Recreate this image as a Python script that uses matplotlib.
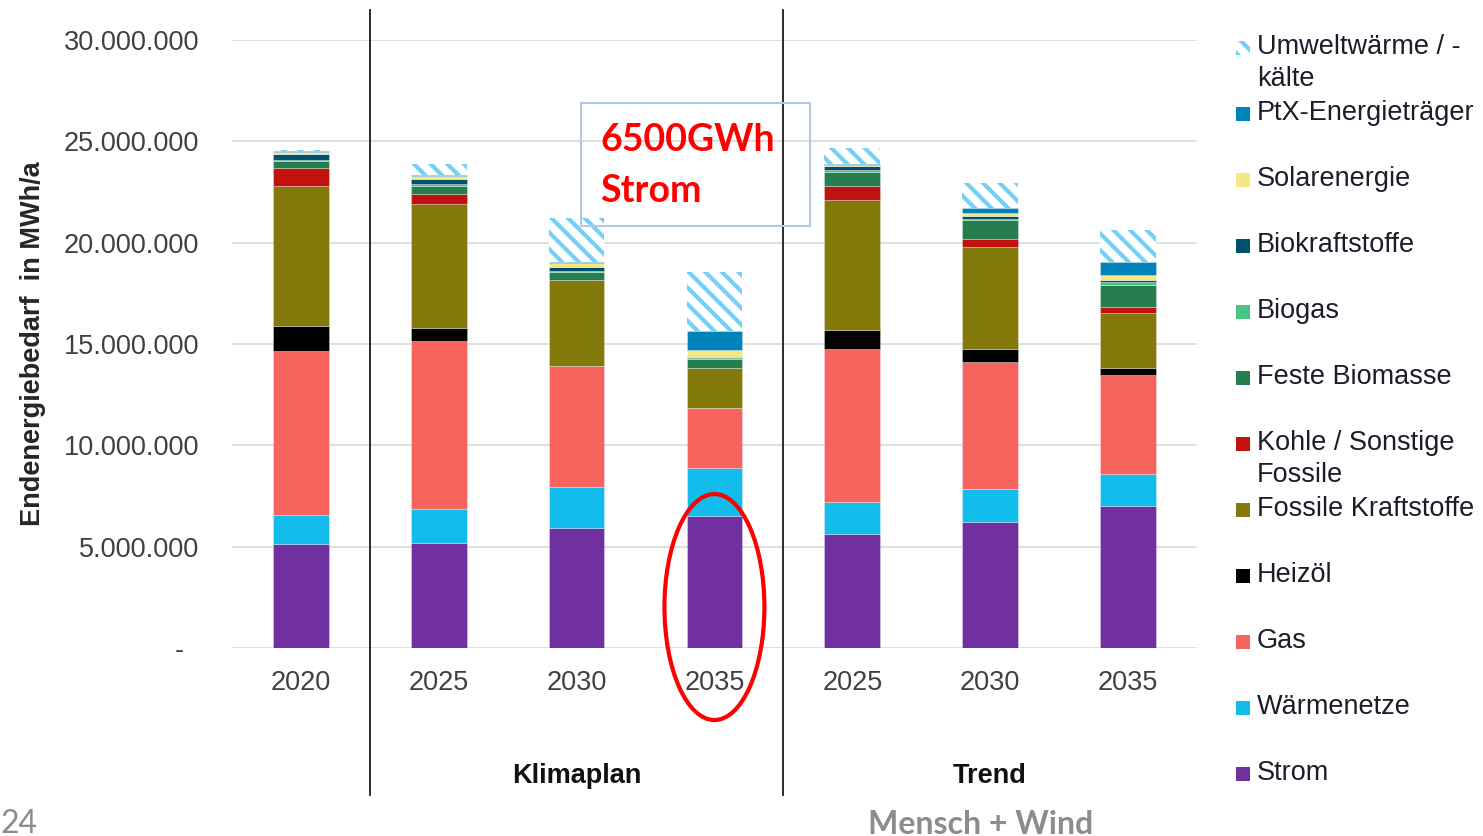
import numpy as np
import matplotlib
matplotlib.use("Agg")
import matplotlib.pyplot as plt
from matplotlib.patches import Rectangle, Ellipse

plt.rcParams['font.family'] = ['Liberation Sans', 'DejaVu Sans']
plt.rcParams['hatch.linewidth'] = 3.0

# Endenergiebedarf je Energieträger, Mio. MWh/a
jahre = ['2020', '2025', '2030', '2035', '2025', '2030', '2035']
strom = [5.13, 5.20, 5.90, 6.50, 5.61, 6.23, 7.00]
waermenetze = [1.43, 1.64, 2.06, 2.40, 1.61, 1.60, 1.58]
gas = [8.11, 8.32, 5.97, 2.96, 7.52, 6.30, 4.89]
heizoel = [1.22, 0.63, 0.00, 0.00, 0.95, 0.61, 0.36]
fossile_kraftstoffe = [6.92, 6.11, 4.23, 1.94, 6.41, 5.03, 2.71]
kohle = [0.85, 0.50, 0.00, 0.00, 0.69, 0.40, 0.30]
feste_biomasse = [0.37, 0.40, 0.41, 0.44, 0.71, 0.95, 1.07]
biogas = [0.07, 0.08, 0.05, 0.06, 0.10, 0.06, 0.16]
biokraftstoffe = [0.25, 0.25, 0.16, 0.08, 0.16, 0.14, 0.10]
solarenergie = [0.10, 0.15, 0.22, 0.30, 0.07, 0.14, 0.25]
ptx = [0.05, 0.05, 0.05, 0.95, 0.05, 0.26, 0.60]
umweltwaerme = [0.08, 0.57, 2.15, 2.93, 0.77, 1.21, 1.60]

reihen = [
    ('Strom', strom, '#7030A0'),
    ('Wärmenetze', waermenetze, '#12BCEB'),
    ('Gas', gas, '#F6645D'),
    ('Heizöl', heizoel, '#000000'),
    ('Fossile Kraftstoffe', fossile_kraftstoffe, '#83780A'),
    ('Kohle / Sonstige\nFossile', kohle, '#C0120F'),
    ('Feste Biomasse', feste_biomasse, '#267E4E'),
    ('Biogas', biogas, '#48C585'),
    ('Biokraftstoffe', biokraftstoffe, '#00506E'),
    ('Solarenergie', solarenergie, '#F5E882'),
    ('PtX-Energieträger', ptx, '#0083B8'),
    ('Umweltwärme / -\nkälte', umweltwaerme, '#74D0F5'),
]

fig = plt.figure(figsize=(14.83, 8.36), dpi=100)
ax = fig.add_axes([0.1564, 0.2249, 0.6507, 0.7273])

x = np.arange(len(jahre))
bottom = np.zeros(len(jahre))
for name, werte, farbe in reihen:
    werte = np.array(werte) * 1e6
    if name.startswith('Umwelt'):
        ax.bar(x, werte, 0.405, bottom=bottom, facecolor='white',
               edgecolor=farbe, linewidth=0, hatch='\\\\', zorder=3)
    else:
        ax.bar(x, werte, 0.405, bottom=bottom, color=farbe,
               edgecolor=(1, 1, 1, 0.35), linewidth=0.6, zorder=3)
    bottom += werte

ax.set_xlim(-0.5, 6.5)
ax.set_ylim(0, 30e6)
yt = np.arange(0, 30e6 + 1, 5e6)
ax.set_yticks(yt)
ax.set_yticklabels(['-  '] + [f'{int(v):,}'.replace(',', '.') for v in yt[1:]])
ax.set_xticks(x)
ax.set_xticklabels(jahre)
ax.tick_params(axis='y', length=0, pad=23.5, labelsize=19.5, labelcolor='#404040')
ax.tick_params(axis='x', length=0, pad=16, labelsize=19.5, labelcolor='#404040')
ax.grid(axis='y', color='#D9D9D9', linewidth=1.2, zorder=0)
ax.set_axisbelow(True)
for s in ax.spines.values():
    s.set_visible(False)

ax.set_ylabel('Endenergiebedarf  in MWh/a', fontsize=19.5, fontweight='bold',
              color='#262626')
ax.yaxis.set_label_coords(-0.1924, 0.5)

# Trennlinien zwischen Ist, Klimaplan und Trend
trans = ax.get_xaxis_transform()
for xs in (0.5, 3.5):
    ax.plot([xs, xs], [-0.242, 1.049], color='#1a1a1a', linewidth=1.3,
            transform=trans, clip_on=False, zorder=4)

ax.text(2.0, -0.21, 'Klimaplan', transform=trans, ha='center', va='center',
        fontsize=19.5, fontweight='bold', color='#111111')
ax.text(5.0, -0.21, 'Trend', transform=trans, ha='center', va='center',
        fontsize=19.5, fontweight='bold', color='#111111')

# Hervorhebung Strom 2035
ax.add_patch(Ellipse((3, 2.02e6), 0.725, 11.15e6, fill=False, edgecolor='#FF0000',
                     linewidth=3.0, clip_on=False, zorder=5))
fig.patches.append(Rectangle((581 / 1483, 1 - 226 / 836), 229 / 1483, 123 / 836,
                             transform=fig.transFigure, fill=False,
                             edgecolor='#B4C7E7', linewidth=1.5))
fig.text(600 / 1483, 1 - 140 / 836, '6500GWh', color='#FF0000', fontsize=27,
         fontweight='bold', family='Lato', va='center', ha='left')
fig.text(600 / 1483, 1 - 191 / 836, 'Strom', color='#FF0000', fontsize=27,
         fontweight='bold', family='Lato', va='center', ha='left')

# Legende
for i, (name, werte, farbe) in enumerate(reversed(reihen)):
    yc = 48 + 66 * i
    if name.startswith('Umwelt'):
        fig.patches.append(Rectangle((1236 / 1483, 1 - (yc + 7) / 836), 14 / 1483, 14 / 836,
                                     transform=fig.transFigure, facecolor='white',
                                     edgecolor=farbe, linewidth=0, hatch='\\\\'))
    else:
        fig.patches.append(Rectangle((1236 / 1483, 1 - (yc + 7) / 836), 14 / 1483, 14 / 836,
                                     transform=fig.transFigure, facecolor=farbe,
                                     edgecolor='none'))
    fig.text(1257 / 1483, 1 - (yc - 14) / 836, name, fontsize=19.5, color='#1c1c2a',
             va='top', ha='left', linespacing=1.28)

fig.text(0.0, 1 - 824 / 836, '24', fontsize=23, color='#8C8C8C', family='Lato',
         va='center', ha='left')
fig.text(868 / 1483, 1 - 824 / 836, 'Mensch + Wind', fontsize=23, color='#8C8C8C',
         family='Lato', fontweight='bold', va='center', ha='left')

fig.savefig('out.png', dpi=100)
